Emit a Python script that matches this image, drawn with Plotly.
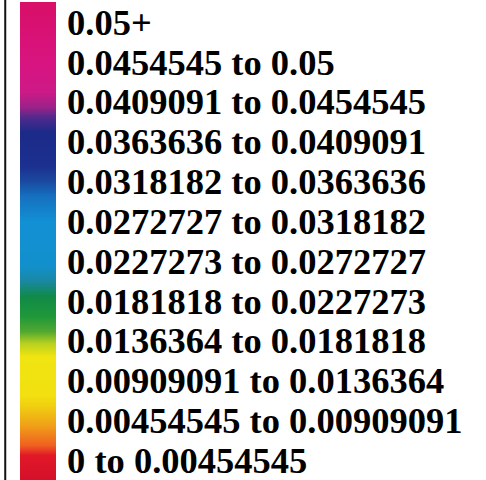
import plotly.graph_objects as go

# Legend class boundaries (lower bounds of each class, plus an upper cap for the open "0.05+" class)
bounds = [0, 0.00454545, 0.00909091, 0.0136364, 0.0181818, 0.0227273, 0.0272727,
          0.0318182, 0.0363636, 0.0409091, 0.0454545, 0.05, 0.0545455]
labels = ["0 to 0.00454545", "0.00454545 to 0.00909091", "0.00909091 to 0.0136364",
          "0.0136364 to 0.0181818", "0.0181818 to 0.0227273", "0.0227273 to 0.0272727",
          "0.0272727 to 0.0318182", "0.0318182 to 0.0363636", "0.0363636 to 0.0409091",
          "0.0409091 to 0.0454545", "0.0454545 to 0.05", "0.05+"]

# gradient stops (pixel row from top of bar -> colour)
H = 480.0
stops_px = [(480, "#d4102a"), (455, "#e01828"), (445, "#f06020"), (425, "#f0a018"),
            (405, "#f0d010"), (395, "#f2e010"), (355, "#f0e412"), (342, "#b8d020"),
            (330, "#50a830"), (315, "#20983a"), (295, "#108a48"), (280, "#1a88a0"),
            (265, "#1290cc"), (220, "#1290d4"), (195, "#1570c0"), (180, "#1a4aa0"),
            (165, "#1c3090"), (130, "#1c2a88"), (115, "#502a8c"), (105, "#9a2288"),
            (90, "#cc1a88"), (60, "#d81480"), (20, "#d81070"), (0, "#d81068")]
colorscale = [[1 - p / H, c] for p, c in stops_px]

ypos = list(range(len(bounds)))

fig = go.Figure(go.Heatmap(
    z=[[b] for b in bounds], x=[0], y=ypos,
    zmin=bounds[0], zmax=bounds[-1],
    colorscale=colorscale, zsmooth="best", showscale=False, hoverinfo="skip"))

fig.add_shape(type="line", xref="paper", yref="paper", x0=-0.41, x1=-0.41, y0=-0.01, y1=1.01,
              line=dict(color="#111111", width=2))

fig.update_xaxes(visible=False, range=[-0.5, 0.5])
fig.update_yaxes(range=[0, 12], side="right", showgrid=False, zeroline=False, showline=False,
                 ticks="", tickvals=[i + 0.5 for i in range(12)], ticktext=labels,
                 ticklabelstandoff=10, ticklabeloverflow="allow",
                 tickfont=dict(family="'Liberation Serif', 'Times New Roman', Times, serif",
                               size=36.5, color="black", weight=700),
                 automargin=False)
fig.update_layout(width=486, height=480, margin=dict(l=20, r=430, t=2, b=0),
                  paper_bgcolor="white", plot_bgcolor="white")
fig.write_html("out.html")
